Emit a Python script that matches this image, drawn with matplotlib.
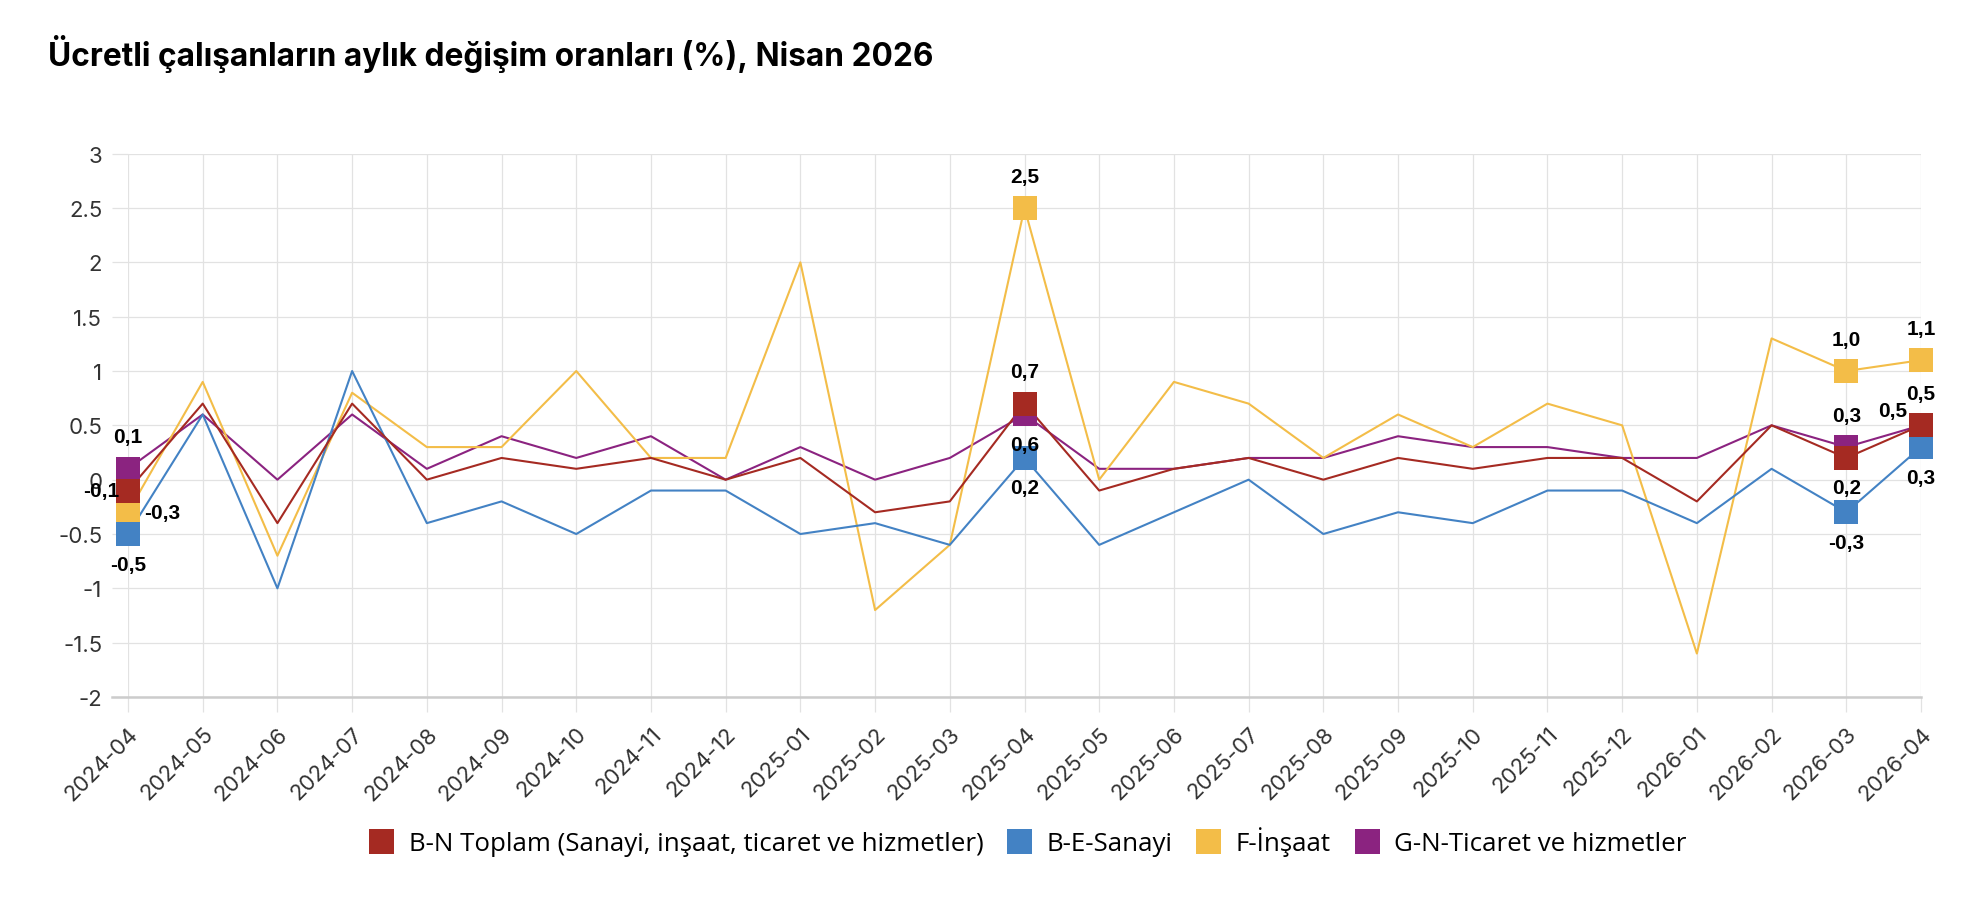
import matplotlib
matplotlib.use("Agg")
import matplotlib.pyplot as plt
from matplotlib.lines import Line2D
from matplotlib.ticker import FixedLocator, FuncFormatter
import numpy as np

plt.rcParams['axes.unicode_minus'] = False
plt.rcParams['font.family'] = ['Inter', 'DejaVu Sans']

# ---------------- data ----------------
months = ["2024-04", "2024-05", "2024-06", "2024-07", "2024-08", "2024-09", "2024-10",
          "2024-11", "2024-12", "2025-01", "2025-02", "2025-03", "2025-04", "2025-05",
          "2025-06", "2025-07", "2025-08", "2025-09", "2025-10", "2025-11", "2025-12",
          "2026-01", "2026-02", "2026-03", "2026-04"]

toplam = [-0.1, 0.7, -0.4, 0.7, 0.0, 0.2, 0.1, 0.2, 0.0, 0.2, -0.3, -0.2, 0.7,
          -0.1, 0.1, 0.2, 0.0, 0.2, 0.1, 0.2, 0.2, -0.2, 0.5, 0.2, 0.5]
sanayi = [-0.5, 0.6, -1.0, 1.0, -0.4, -0.2, -0.5, -0.1, -0.1, -0.5, -0.4, -0.6, 0.2,
          -0.6, -0.3, 0.0, -0.5, -0.3, -0.4, -0.1, -0.1, -0.4, 0.1, -0.3, 0.3]
insaat = [-0.3, 0.9, -0.7, 0.8, 0.3, 0.3, 1.0, 0.2, 0.2, 2.0, -1.2, -0.6, 2.5,
          0.0, 0.9, 0.7, 0.2, 0.6, 0.3, 0.7, 0.5, -1.6, 1.3, 1.0, 1.1]
ticaret = [0.1, 0.6, 0.0, 0.6, 0.1, 0.4, 0.2, 0.4, 0.0, 0.3, 0.0, 0.2, 0.6,
           0.1, 0.1, 0.2, 0.2, 0.4, 0.3, 0.3, 0.2, 0.2, 0.5, 0.3, 0.5]

series_names = ["B-N Toplam (Sanayi, inşaat, ticaret ve hizmetler)", "B-E-Sanayi",
                "F-İnşaat", "G-N-Ticaret ve hizmetler"]
series_values = [toplam, sanayi, insaat, ticaret]

marked_idx = [0, 12, 23, 24]

title = "Ücretli çalışanların aylık değişim oranları (%), Nisan 2026"

# ---------------- styling ----------------
colors = ['#a52a22', '#4382c4', '#f3bd48', '#8b2380']
zorders = [6, 5, 4, 3]
grid_c = '#e2e2e2'

# label placement per (series, point index): position
label_pos = {
    (0, 0): 'left', (1, 0): 'bottom', (2, 0): 'right', (3, 0): 'top',
    (0, 12): 'top', (1, 12): 'bottom', (2, 12): 'top', (3, 12): 'bottom',
    (0, 23): 'bottom', (1, 23): 'bottom', (2, 23): 'top', (3, 23): 'top',
    (0, 24): 'top', (1, 24): 'bottom', (2, 24): 'top', (3, 24): 'leftup',
}

W, H = 1988, 912
fig = plt.figure(figsize=(W / 100, H / 100), dpi=100)
L, R, T, B = 128, 1921, 154.7, 698
ax = fig.add_axes([L / W, 1 - B / H, (R - L) / W, (B - T) / H])

x = np.arange(len(months))
for i, (name, vals) in enumerate(zip(series_names, series_values)):
    ax.plot(x, vals, color=colors[i], lw=1.5, zorder=zorders[i], clip_on=False)
    ax.plot(x[marked_idx], np.array(vals)[marked_idx], linestyle='none', marker='s',
            markersize=17.5, markeredgewidth=0, color=colors[i], zorder=zorders[i] + 10,
            clip_on=False)

ax.set_xlim(0, len(months) - 1)
ax.set_ylim(-2, 3)

ax.xaxis.set_major_locator(FixedLocator(x))
ax.set_xticklabels(months)
yt = np.arange(-2, 3.01, 0.5)
ax.yaxis.set_major_locator(FixedLocator(yt))
ax.yaxis.set_major_formatter(FuncFormatter(
    lambda v, p: str(int(round(v))) if abs(v - round(v)) < 1e-9 else f"{v:.1f}"))

ax.grid(True, color=grid_c, lw=0.9, zorder=0)
ax.set_axisbelow(True)
for s in ax.spines.values():
    s.set_visible(False)

ax.tick_params(axis='x', length=10.8, width=0.9, color=grid_c, pad=8,
               labelsize=16, labelcolor='#333333')
ax.tick_params(axis='y', length=11.5, width=0.9, color=grid_c, pad=7,
               labelsize=16, labelcolor='#333333')
for lab in ax.get_xticklabels():
    lab.set_rotation(45)
    lab.set_ha('right')
    lab.set_va('top')
    lab.set_rotation_mode('anchor')

# bottom axis line (extends under the y tick)
ext = 16 / (R - L)
ax.plot([-ext, 1], [0, 0], transform=ax.transAxes, color='#cccccc', lw=1.8,
        clip_on=False, zorder=1)

# data labels
for (si, pi), pos in label_pos.items():
    v = series_values[si][pi]
    txt = f"{v:.1f}".replace('.', ',')
    if pos == 'top':
        off, ha, va = (0, 32), 'center', 'center'
    elif pos == 'bottom':
        off, ha, va = (0, -30), 'center', 'center'
    elif pos == 'left':
        off, ha, va = (-9, 0), 'right', 'center'
    elif pos == 'right':
        off, ha, va = (16, 0), 'left', 'center'
    else:  # leftup
        off, ha, va = (-14, 15), 'right', 'center'
    ax.annotate(txt, (x[pi], v), xytext=off, textcoords='offset pixels',
                ha=ha, va=va, fontsize=15, fontweight='bold', color='black',
                family=['Liberation Sans', 'DejaVu Sans'], zorder=30,
                annotation_clip=False)

# title
fig.text(48 / W, 1 - 66 / H, title, fontsize=22.8, fontweight='bold', color='black',
         ha='left', va='baseline', family=['Inter', 'DejaVu Sans'])

# legend
handles = [Line2D([], [], linestyle='none', marker='s', markersize=18,
                  markeredgewidth=0, color=c) for c in colors]
fig.legend(handles, series_names, loc='center',
           bbox_to_anchor=(0.5 + 33 / W, 1 - 842 / H),
           ncol=4, frameon=False, handlelength=1.05, handletextpad=0.55,
           columnspacing=0.85, borderaxespad=0,
           prop={'family': ['Open Sans', 'DejaVu Sans'], 'size': 18.6})

fig.savefig('out.png', dpi=100)
